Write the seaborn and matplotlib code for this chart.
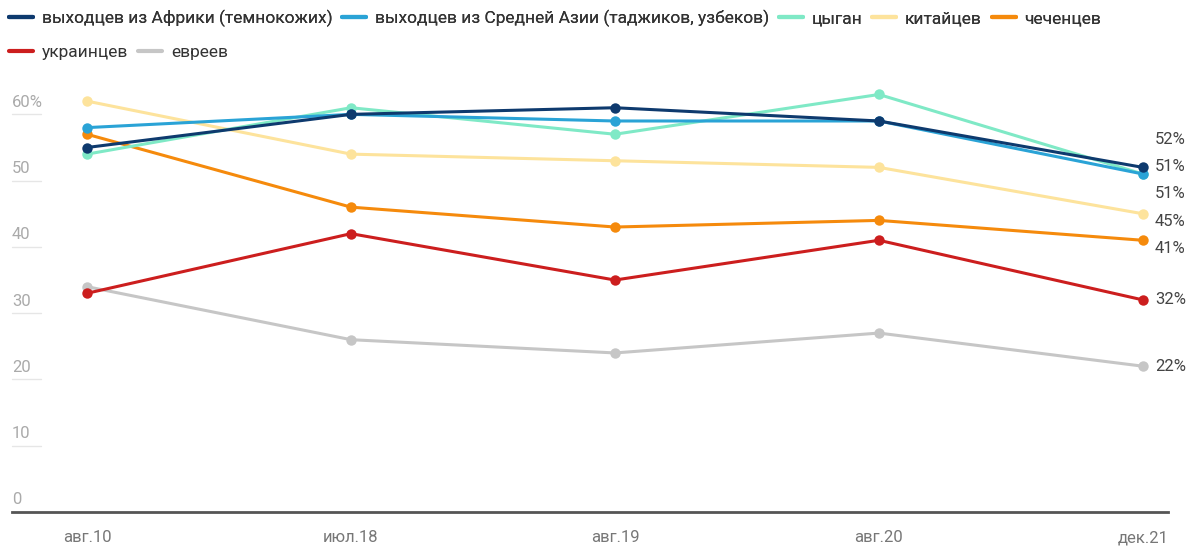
import numpy as np
import pandas as pd
import matplotlib
matplotlib.use("Agg")
import matplotlib.pyplot as plt
import matplotlib.transforms as mtransforms
from matplotlib.lines import Line2D
import seaborn as sns

# ---- data ----
dates = ["авг.10", "июл.18", "авг.19", "авг.20", "дек.21"]
groups = [
    "выходцев из Африки (темнокожих)",
    "выходцев из Средней Азии (таджиков, узбеков)",
    "цыган",
    "китайцев",
    "чеченцев",
    "украинцев",
    "евреев",
]
africa = [55, 60, 61, 59, 52]
central_asia = [58, 60, 59, 59, 51]
roma = [54, 61, 57, 63, 51]
chinese = [62, 54, 53, 52, 45]
chechens = [57, 46, 43, 44, 41]
ukrainians = [33, 42, 35, 41, 32]
jews = [34, 26, 24, 27, 22]
series = [africa, central_asia, roma, chinese, chechens, ukrainians, jews]
colors = ["#0e3a6e", "#2aa3d6", "#7fe9c6", "#fde39c", "#f58a0c", "#cc1e1e", "#c6c6c6"]
yticks = [0, 10, 20, 30, 40, 50, 60]

rows = []
for g, vals in zip(groups, series):
    for i, v in enumerate(vals):
        rows.append({"group": g, "idx": i, "value": v})
df = pd.DataFrame(rows)

sns.set_theme(style="white")
plt.rcParams["font.family"] = ["Roboto", "DejaVu Sans"]

fig = plt.figure(figsize=(11.92, 5.48), dpi=100)
ax = fig.add_axes([12 / 1192, 36 / 548, 1156 / 1192, 437.4 / 548])

palette = dict(zip(groups, colors))
sns.lineplot(data=df, x="idx", y="value", hue="group", hue_order=groups[::-1],
             palette=palette, marker="o", markersize=7.5, markeredgewidth=0,
             linewidth=2.2, legend=False, ax=ax)

ax.set_xlim(-0.284, 4.095)
ax.set_ylim(0, 66)
ax.set_xlabel("")
ax.set_ylabel("")
ax.set_xticks(range(len(dates)))
ax.set_xticklabels(dates, fontsize=12, color="#777777")
ax.tick_params(axis="x", length=5, width=1.2, color="#333333", pad=8, direction="out")
ax.set_yticks([])
for s in ["top", "right", "left"]:
    ax.spines[s].set_visible(False)
ax.spines["bottom"].set_color("#555555")
ax.spines["bottom"].set_linewidth(2)

# y labels with small stubs
trans = mtransforms.blended_transform_factory(ax.transAxes, ax.transData)
for v in yticks:
    lab = f"{v}%" if v == 60 else f"{v}"
    ax.text(0.0, v + 0.7, lab, transform=trans, ha="left", va="bottom",
            fontsize=12, color="#aaaaaa")
    if v > 0:
        ax.plot([0.0, 0.025], [v, v], transform=trans, color="#e6e6e6",
                linewidth=1, clip_on=False)

# end labels with simple collision avoidance
ends = [s[-1] for s in series]
order = np.argsort(ends)[::-1]
gap = 4.1


def placed(cl):
    m = np.mean(cl)
    n = len(cl)
    return [m + gap * ((n - 1) / 2 - k) for k in range(n)]


clusters = [[float(ends[i])] for i in order]
changed = True
while changed:
    changed = False
    new = [clusters[0]]
    for c in clusters[1:]:
        prev = new[-1]
        if placed(prev)[-1] - placed(c)[0] < gap - 1e-9:
            new[-1] = prev + c
            changed = True
        else:
            new.append(c)
    clusters = new
label_pos = []
for cl in clusters:
    label_pos += placed(cl)
for rank, i in enumerate(order):
    ax.text(4.045, label_pos[rank], f"{ends[i]}%", ha="left", va="center",
            fontsize=12, color="#444444", clip_on=False)

# legends
legfont = {"family": ["Roboto", "DejaVu Sans"], "size": 12.5}


def make_handles(idx):
    return [Line2D([0], [0], color=colors[i], linewidth=3) for i in idx]


leg1 = fig.legend(make_handles(range(5)), groups[:5], ncol=5, loc="upper left",
                  bbox_to_anchor=(9 / 1192, 1 - 10 / 548), frameon=False,
                  prop=legfont, handlelength=1.4, handletextpad=0.5,
                  columnspacing=0.55, borderpad=0, borderaxespad=0)
for t in leg1.get_texts():
    t.set_color("#333333")
leg2 = fig.legend(make_handles(range(5, 7)), groups[5:], ncol=2, loc="upper left",
                  bbox_to_anchor=(9 / 1192, 1 - 45 / 548), frameon=False,
                  prop=legfont, handlelength=1.4, handletextpad=0.5,
                  columnspacing=0.55, borderpad=0, borderaxespad=0)
for t in leg2.get_texts():
    t.set_color("#333333")
fig.add_artist(leg1)

fig.savefig("out.png", dpi=100)
